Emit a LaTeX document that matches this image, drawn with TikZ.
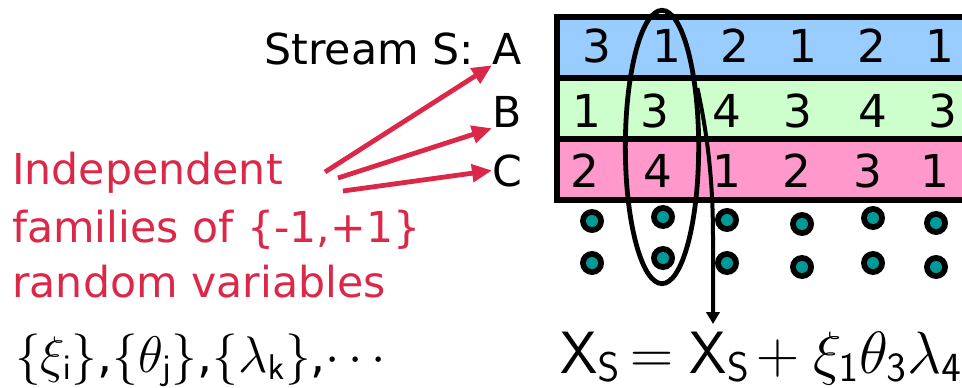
\documentclass[tikz,border=0pt]{standalone}
\usepackage[no-math]{fontspec}
\setmainfont{DejaVu Sans}
\usetikzlibrary{shapes.geometric,arrows.meta}
\definecolor{rowblue}{HTML}{99CCFF}
\definecolor{rowgreen}{HTML}{CCFFCC}
\definecolor{rowpink}{HTML}{FF99CC}
\definecolor{redtxt}{HTML}{DC2848}
\definecolor{dotteal}{HTML}{009999}
\tikzset{
  txt/.style={inner sep=0pt, font=\fontsize{32}{38}\selectfont},
  redline/.style={txt, anchor=base west, text=redtxt},
  digit/.style={inner sep=0pt, font=\fontsize{34}{40}\selectfont},
  border/.style={line width=4.5pt},
  redarrow/.style={draw=redtxt, line width=3.6pt, -{Triangle[length=15pt,width=13pt]}},
  blackarrow/.style={draw=black, line width=3pt, -{Triangle[length=9pt,width=10pt]}},
  dotring/.style={fill=black},
}
\begin{document}
\begin{tikzpicture}[x=0.75pt,y=-0.75pt]
\useasboundingbox (0,0) rectangle (962,388);
% table rows
\fill[rowblue] (557,17) rectangle (970,78.5);
\fill[rowgreen] (557,78.5) rectangle (970,139.5);
\fill[rowpink] (557,139.5) rectangle (970,200);
\draw[border] (970,17) -- (557,17) -- (557,200) -- (970,200);
\draw[border] (557,78.5) -- (970,78.5);
\draw[border] (557,139.5) -- (970,139.5);
% digits
\foreach \x/\d [count=\i] in {597/3,667/1,735/2,803/1,872/2,940/1}
  \node[digit] (a\i) at (\x,46) {\d};
\foreach \x/\d [count=\i] in {587/1,655/3,727/4,798/3,873/4,943/3}
  \node[digit] (b\i) at (\x,111) {\d};
\foreach \x/\d [count=\i] in {585/2,658/4,727/1,797/2,868/3,935/1}
  \node[digit] (c\i) at (\x,171) {\d};
% dots
\foreach \x/\ya/\yb [count=\i] in {592/221/263,663/217/258,727/220/263,802/224/267,873/218/263,936/223/267}{
  \fill[dotring] (\x,\ya) circle[radius=12];
  \fill[dotteal] (\x,\ya) circle[radius=6];
  \fill[dotring] (\x,\yb) circle[radius=12];
  \fill[dotteal] (\x,\yb) circle[radius=6];
}
% labels
\node[txt, anchor=base east] (stream) at (474,65) {Stream S:};
\node[txt, anchor=base west] (A) at (492,65) {A};
\node[txt, anchor=base west] (B) at (492,128) {B};
\node[txt, anchor=base west] (C) at (492,186) {C};
% red text
\node[redline] (r1) at (12,185) {Independent};
\node[redline] (r2) at (12,242) {families of \{-1,+1\}};
\node[redline] (r3) at (12,297) {random variables};
\coordinate (s1) at (325,172);
\coordinate (s2) at (338,178);
\coordinate (s3) at (343,191);
\draw[redarrow] (s1) -- (A.south west);
\draw[redarrow] (s2) -- (B.south west);
\draw[redarrow] (s3) -- (C.west);
% ellipse
\node[draw, ellipse, line width=3.6pt, inner sep=0pt, minimum width=55pt, minimum height=205pt] (col) at (662,147) {};
% formula
\node[inner sep=0pt, anchor=base west] (fam) at (15,372) {\scalebox{1.55}{\fontsize{23}{26}\selectfont $\{\xi_{\mathsf{i}}\}$,$\{\theta_{\mathsf{j}}\}$,$\{\lambda_{\mathsf{k}}\}$,$\cdots$}};
\node[inner sep=0pt, anchor=base west] (eq) at (560,373) {\scalebox{1.8}{\fontsize{23}{26}\selectfont $\mathsf{X}_{\mathsf{S}}\mkern-2mu = \mathsf{X}_{\mathsf{S}}\mkern-2mu + \xi_{\mathsf{1}}\theta_{\mathsf{3}}\lambda_{\mathsf{4}}$}};
\coordinate (tip) at (713,324);
\draw[blackarrow] (col.59) .. controls (711,150) and (713,200) .. (713,240) -- (tip);
\end{tikzpicture}
\end{document}
